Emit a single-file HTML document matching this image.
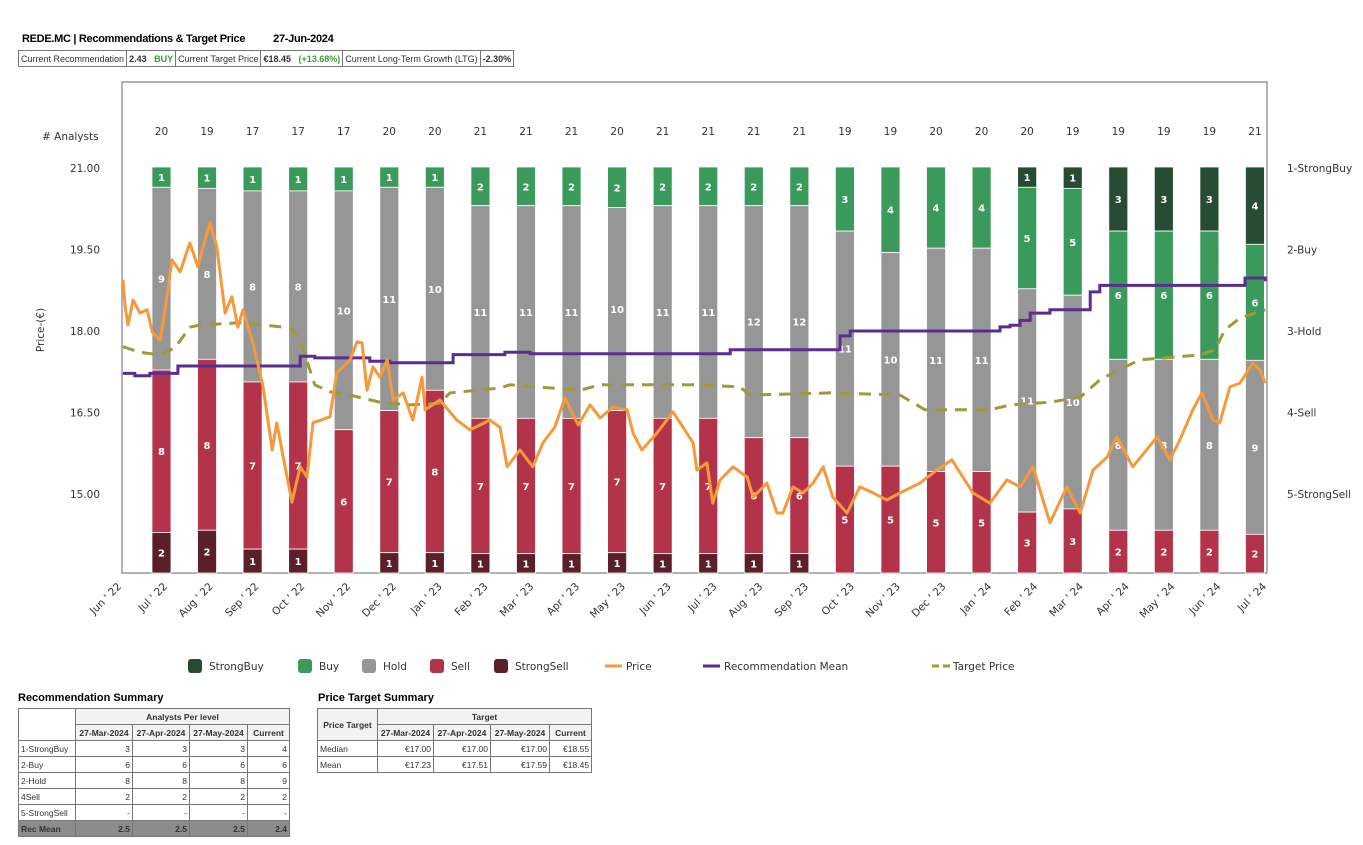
<!DOCTYPE html>
<html><head><meta charset="utf-8">
<style>
body{margin:0;background:#fff;width:1363px;height:845px;overflow:hidden;position:relative;font-family:"Liberation Sans",sans-serif;}
.abs{position:absolute}
table{border-collapse:collapse;font-size:8.5px;color:#333;table-layout:fixed}
td{border:1px solid #777;padding:0 2px;height:15px;white-space:nowrap;overflow:hidden}
.r{text-align:right}.c{text-align:center}.b{font-weight:bold}
</style></head><body>
<div class="abs b" style="left:22px;top:33px;font-size:11px;letter-spacing:-0.3px">REDE.MC | Recommendations &amp; Target Price<span style="margin-left:28px">27-Jun-2024</span></div>
<table class="abs" style="left:18px;top:50px;font-size:9px;table-layout:auto">
<tr><td>Current Recommendation</td><td class="b">2.43 &nbsp;&nbsp;<span style="color:#3a9a3a">BUY</span></td><td>Current Target Price</td><td class="b">€18.45 &nbsp;&nbsp;<span style="color:#3a9a3a">(+13.68%)</span></td><td>Current Long-Term Growth (LTG)</td><td class="b">-2.30%</td></tr></table>

<svg id="chart" class="abs" style="left:0;top:0" width="1363" height="845"></svg>

<div class="abs b" style="left:18px;top:692px;font-size:11px">Recommendation Summary</div>
<table class="abs" style="left:18px;top:708px;width:271px">
<colgroup><col style="width:57px"><col style="width:57px"><col style="width:57px"><col style="width:58px"><col style="width:42px"></colgroup>
<tr><td rowspan="2"></td><td colspan="4" class="c b" style="background:#f2f2f2">Analysts Per level</td></tr>
<tr class="b c" style="background:#f2f2f2"><td>27-Mar-2024</td><td>27-Apr-2024</td><td>27-May-2024</td><td>Current</td></tr>
<tr><td>1-StrongBuy</td><td class="r">3</td><td class="r">3</td><td class="r">3</td><td class="r">4</td></tr>
<tr><td>2-Buy</td><td class="r">6</td><td class="r">6</td><td class="r">6</td><td class="r">6</td></tr>
<tr><td>2-Hold</td><td class="r">8</td><td class="r">8</td><td class="r">8</td><td class="r">9</td></tr>
<tr><td>4Sell</td><td class="r">2</td><td class="r">2</td><td class="r">2</td><td class="r">2</td></tr>
<tr><td>5-StrongSell</td><td class="r">-</td><td class="r">-</td><td class="r">-</td><td class="r">-</td></tr>
<tr class="b" style="background:#8c8c8c"><td>Rec Mean</td><td class="r">2.5</td><td class="r">2.5</td><td class="r">2.5</td><td class="r">2.4</td></tr>
</table>
<div class="abs b" style="left:318px;top:692px;font-size:11px">Price Target Summary</div>
<table class="abs" style="left:317px;top:708px;width:274px">
<colgroup><col style="width:60px"><col style="width:56px"><col style="width:57px"><col style="width:59px"><col style="width:42px"></colgroup>
<tr><td rowspan="2" class="b c" style="background:#f2f2f2">Price Target</td><td colspan="4" class="c b" style="background:#f2f2f2">Target</td></tr>
<tr class="b c" style="background:#f2f2f2"><td>27-Mar-2024</td><td>27-Apr-2024</td><td>27-May-2024</td><td>Current</td></tr>
<tr><td>Median</td><td class="r">€17.00</td><td class="r">€17.00</td><td class="r">€17.00</td><td class="r">€18.55</td></tr>
<tr><td>Mean</td><td class="r">€17.23</td><td class="r">€17.51</td><td class="r">€17.59</td><td class="r">€18.45</td></tr>
</table>

<script>
const months=["Jun ' 22","Jul ' 22","Aug ' 22","Sep ' 22","Oct ' 22","Nov ' 22","Dec ' 22","Jan ' 23","Feb ' 23","Mar ' 23","Apr ' 23","May ' 23","Jun ' 23","Jul ' 23","Aug ' 23","Sep ' 23","Oct ' 23","Nov ' 23","Dec ' 23","Jan ' 24","Feb ' 24","Mar ' 24","Apr ' 24","May ' 24","Jun ' 24","Jul ' 24"];
const strongBuy=[0,0,0,0,0,0,0,0,0,0,0,0,0,0,0,0,0,0,0,1,1,3,3,3,4];
const buy=[1,1,1,1,1,1,1,2,2,2,2,2,2,2,2,3,4,4,4,5,5,6,6,6,6];
const hold=[9,8,8,8,10,11,10,11,11,11,10,11,11,12,12,11,10,11,11,11,10,8,8,8,9];
const sell=[8,8,7,7,6,7,8,7,7,7,7,7,7,6,6,5,5,5,5,3,3,2,2,2,2];
const strongSell=[2,2,1,1,0,1,1,1,1,1,1,1,1,1,1,0,0,0,0,0,0,0,0,0,0];
const yTicks=[21.00,19.50,18.00,16.50,15.00];
const recLabels=["1-StrongBuy","2-Buy","3-Hold","4-Sell","5-StrongSell"];
const priceM=[.02,.07,.13,.24,.39,.55,.66,.83,.94,1.09,1.27,1.48,1.66,1.77,1.92,2.07,2.25,2.40,2.53,2.64,2.86,3.08,3.28,3.38,3.52,3.71,3.89,4.04,4.17,4.54,4.69,4.98,5.13,5.24,5.35,5.48,5.63,5.79,5.92,6.14,6.35,6.55,6.62,6.94,7.31,7.60,8.03,8.25,8.41,8.69,8.97,9.19,9.45,9.67,9.96,10.22,10.44,10.72,11.03,11.16,11.35,11.68,12.03,12.25,12.47,12.55,12.77,12.90,13.06,13.34,13.65,13.78,14.08,14.30,14.43,14.65,14.87,15.09,15.31,15.52,15.83,16.11,16.40,16.70,16.99,17.42,17.79,18.12,18.30,18.58,18.95,19.32,19.61,19.89,20.26,20.63,20.92,21.20,21.51,21.72,22.07,22.60,22.88,23.10,23.38,23.58,23.82,23.97,24.19,24.41,24.69,24.85,24.96];
const priceV=[18.94,18.44,18.11,18.57,18.33,18.39,17.98,17.83,18.39,19.31,19.09,19.62,19.18,19.55,19.99,19.55,18.33,18.63,18.07,18.39,17.78,16.97,15.81,16.31,15.68,14.85,15.50,15.31,16.31,16.42,17.23,17.47,17.80,17.78,16.91,17.34,17.15,17.47,16.73,16.86,16.36,17.15,16.55,16.73,16.36,16.18,16.36,16.23,15.50,15.81,15.50,15.94,16.23,16.77,16.27,16.64,16.40,16.60,16.55,16.12,15.81,16.12,16.51,16.23,15.94,15.44,15.57,14.83,15.26,15.50,15.31,14.94,15.20,14.65,14.65,15.13,15.02,15.20,15.50,14.94,14.65,15.13,15.02,14.89,15.02,15.20,15.44,15.63,15.39,15.02,14.83,15.26,15.13,15.50,14.47,15.13,14.65,15.44,15.68,16.05,15.50,16.05,15.63,16.00,16.55,16.86,16.36,16.31,16.97,17.04,17.41,17.28,17.04];
const targetM=[.02,.39,.83,1.16,1.48,1.70,2.58,3.67,3.89,4.21,4.54,4.98,5.63,6.29,6.94,7.16,8.25,8.47,10.0,10.44,12.62,13.49,13.71,15.46,16.99,17.53,18.95,19.39,20.26,20.92,21.35,21.68,22.23,23.54,23.86,24.08,24.41,24.96];
const targetV=[17.71,17.61,17.56,17.69,18.07,18.11,18.15,18.06,17.83,17.01,16.88,16.82,16.69,16.64,16.67,16.86,16.95,17.01,16.91,17.01,17.01,16.97,16.82,16.86,16.82,16.55,16.55,16.64,16.69,16.78,17.10,17.25,17.47,17.56,17.65,18.02,18.24,18.39];
const recM=[.02,.28,.61,1.22,3.89,4.21,5.41,5.85,7.23,8.36,8.91,13.28,15.68,15.90,19.17,19.39,19.61,19.83,20.26,21.14,21.35,24.52,24.96];
const recV=[3.52,3.55,3.52,3.43,3.31,3.33,3.37,3.39,3.29,3.26,3.28,3.23,3.06,3.00,2.95,2.93,2.87,2.78,2.74,2.52,2.44,2.35,2.39];

const NS="http://www.w3.org/2000/svg";
const svg=document.getElementById('chart');
const X0=122,X1=1267,Y0=82,Y1=573,BT=167,BW=19;
const xs=m=>X0+m*(X1-X0)/25;
const yP=v=>168+(21-v)*54.33;
const yR=r=>168+(r-1)*81.5;
function el(tag,attrs,parent){const e=document.createElementNS(NS,tag);for(const k in attrs)e.setAttribute(k,attrs[k]);(parent||svg).appendChild(e);return e;}
function txt(s,attrs){const t=el('text',Object.assign({'font-family':'DejaVu Sans, sans-serif','font-size':10.5,fill:'#333'},attrs));t.textContent=s;return t;}

const frame=el('rect',{x:X0,y:Y0,width:X1-X0,height:Y1-Y0,fill:'none',stroke:'#999','stroke-width':1.5});



yTicks.forEach(v=>{
  const t=txt(v.toFixed(2),{x:100,y:yP(v)+4,'text-anchor':'end'});
  
  
});
recLabels.forEach((s,i)=>{
  const t=txt(s,{x:1287,y:yR(i+1)+4});
  
  
});
const yt=txt('Price-(€)',{x:0,y:0,transform:'translate(44,330) rotate(-90)','text-anchor':'middle'});


const an=txt('# Analysts',{x:42,y:140});



months.forEach((s,i)=>{
  const x=xs(i);
  const t=txt(s,{x:0,y:0,transform:`translate(${x},587) rotate(-45)`,'text-anchor':'end'});
  
  
});

const cols=['#264d33','#3a9a5c','#969696','#b3344a','#5a1f29'];
const series=[strongBuy,buy,hold,sell,strongSell];
const segNames=['bar-strongbuy','bar-buy','bar-hold','bar-sell','bar-strongsell'];
for(let i=0;i<strongBuy.length;i++){
  const total=series.reduce((a,s)=>a+s[i],0);
  const cx=xs(0.862+i*0.9948);
  const H=Y1-BT;
  let y=BT;
  const ct=txt(String(total),{x:cx,y:135,'text-anchor':'middle'});
  
  
  series.forEach((s,k)=>{
    if(!s[i])return;
    const h=s[i]/total*H;
    const r=el('rect',{x:cx-BW/2,y:y,width:BW,height:h,fill:cols[k],stroke:'#fff','stroke-width':0.8});
    
    
    const lt=txt(String(s[i]),{x:cx,y:y+h/2+4,'text-anchor':'middle',fill:'#fff','font-weight':'bold','font-size':10});
    
    
    y+=h;
  });
}

let d='';targetM.forEach((m,i)=>{d+=(i?'L':'M')+xs(m).toFixed(1)+','+yP(targetV[i]).toFixed(1);});
const tp=el('path',{d:d,fill:'none',stroke:'#9e9a3a','stroke-width':3,'stroke-dasharray':'12,8'});


d='';recM.forEach((m,i)=>{const x=xs(m).toFixed(1),y=yR(recV[i]).toFixed(1);d+=i?('H'+x+'V'+y):('M'+x+','+y);});
const rm=el('path',{d:d,fill:'none',stroke:'#5b2d90','stroke-width':3});


d='';priceM.forEach((m,i)=>{d+=(i?'L':'M')+xs(m).toFixed(1)+','+yP(priceV[i]).toFixed(1);});
const pl=el('path',{d:d,fill:'none',stroke:'#f59a3a','stroke-width':3,'stroke-linejoin':'round'});



const leg=[['StrongBuy','box',cols[0],188],['Buy','box',cols[1],298],['Hold','box',cols[2],362],['Sell','box',cols[3],430],['StrongSell','box',cols[4],494],['Price','line','#f59a3a',605],['Recommendation Mean','line','#5b2d90',703],['Target Price','dash','#9e9a3a',932]];
leg.forEach(([name,type,c,x])=>{
  const g=el('g',{});
  
  
  let tx;
  if(type==='box'){el('rect',{x:x,y:659,width:14,height:14,rx:3,fill:c},g);tx=x+21;}
  else{el('line',{x1:x,y1:666,x2:x+(type==='dash'?18:17),y2:666,stroke:c,'stroke-width':3,'stroke-dasharray':type==='dash'?'7,4':'none'},g);tx=x+21;}
  const t=document.createElementNS(NS,'text');
  t.setAttribute('x',tx);t.setAttribute('y',670);t.setAttribute('font-family','DejaVu Sans, sans-serif');t.setAttribute('font-size',10.5);t.setAttribute('fill','#333');
  t.textContent=name;g.appendChild(t);
});
</script>
</body></html>
